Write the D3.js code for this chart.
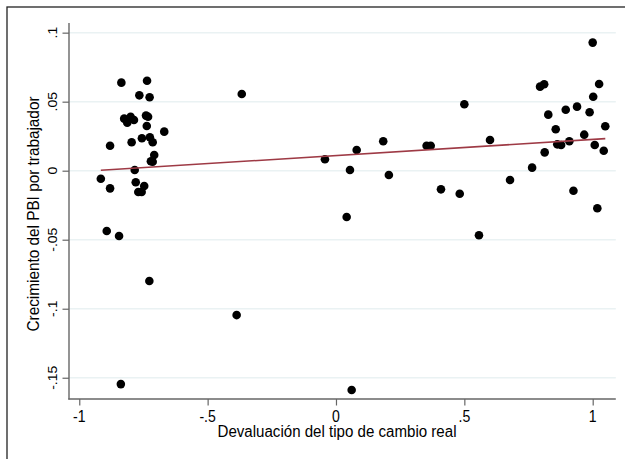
<!DOCTYPE html>
<html><head><meta charset="utf-8">
<script src="https://cdn.jsdelivr.net/npm/d3@7"></script>
<style>body{margin:0;background:#fff}svg{display:block}text{font-family:"Liberation Sans",Arial,sans-serif;fill:#000}</style>
</head><body>
<script>
const devaluacion = [
 -0.916,-0.880,-0.880,-0.893,-0.845,-0.836,-0.838,-0.825,-0.813,-0.800,
 -0.787,-0.796,-0.784,-0.780,-0.770,-0.757,-0.766,-0.756,-0.747,-0.740,
 -0.732,-0.737,-0.736,-0.726,-0.725,-0.714,-0.727,-0.708,-0.714,-0.721,
 -0.669,
 -0.387,-0.367,-0.043,0.0416,0.0545,0.0611,0.0806,0.184,0.206,0.353,
 0.369,0.409,0.482,0.500,0.557,0.600,0.678,0.764,
 0.795,0.811,0.813,0.827,0.856,0.862,0.877,0.895,0.909,0.925,
 0.939,0.967,0.988,1.000,1.002,1.008,1.018,1.025,1.043,1.049
];
const crecimiento = [
 -0.0058,-0.0128,0.0181,-0.0437,-0.0473,0.0638,-0.1546,0.0377,0.0348,0.0391,
 0.0367,0.0206,0.0005,-0.0084,-0.0154,-0.0154,0.0546,0.0235,-0.0111,0.0399,
 0.0391,0.0324,0.0652,0.0532,0.0242,0.0206,-0.0799,0.0114,0.0065,0.0068,
 0.0283,
 -0.1046,0.0556,0.0083,-0.0336,0.0005,-0.1589,0.0150,0.0213,-0.0031,0.0181,
 0.0181,-0.0135,-0.0167,0.0481,-0.0468,0.0222,-0.0067,0.0022,
 0.0609,0.0626,0.0133,0.0406,0.0300,0.0191,0.0186,0.0442,0.0213,-0.0145,
 0.0464,0.0261,0.0423,0.0928,0.0536,0.0186,-0.0272,0.0628,0.0145,0.0322
];
const xTicks = [-1, -0.5, 0, 0.5, 1];
const xTickLabels = ["-1", "-.5", "0", ".5", "1"];
const yTicks = [0.1, 0.05, 0, -0.05, -0.1, -0.15];
const yTickLabels = [".1", ".05", "0", "-.05", "-.1", "-.15"];
const xTitle = "Devaluación del tipo de cambio real";
const yTitle = "Crecimiento del PBI por trabajador";

const W = 625, H = 459;
const svg = d3.select("body").append("svg").attr("width", W).attr("height", H);
svg.append("rect").attr("width", W).attr("height", H).attr("fill", "#fff");
// outer frame
svg.append("rect").attr("x", 7).attr("y", 7).attr("width", 700).attr("height", 600)
  .attr("fill", "none").attr("stroke", "#222").attr("stroke-width", 1.3);

const x = d3.scaleLinear().domain([-1.040, 1.090]).range([69, 615.8]);
const y = d3.scaleLinear().domain([-0.1654, 0.107]).range([399, 23]);

// gridlines
svg.append("g").selectAll("line").data(yTicks).join("line")
  .attr("x1", 69).attr("x2", 615.8).attr("y1", d => y(d)).attr("y2", d => y(d))
  .attr("stroke", "#eaf2f3").attr("stroke-width", 1.5);

// axes
const yAxis = d3.axisLeft(y).tickValues(yTicks).tickSize(6.5).tickFormat("");
const gy = svg.append("g").attr("transform", "translate(69,0)").call(yAxis);
gy.select(".domain").remove();
gy.selectAll(".tick line").attr("stroke", "#666").attr("stroke-width", 1.2);
svg.append("line").attr("x1", 69).attr("x2", 69).attr("y1", 23).attr("y2", 399.5)
  .attr("stroke", "#666").attr("stroke-width", 1.4);

const xAxis = d3.axisBottom(x).tickValues(xTicks).tickSize(6.5).tickFormat("");
const gx = svg.append("g").attr("transform", "translate(0,399)").call(xAxis);
gx.select(".domain").remove();
gx.selectAll(".tick line").attr("stroke", "#666").attr("stroke-width", 1.2);
svg.append("line").attr("x1", 68.3).attr("x2", 615.8).attr("y1", 399).attr("y2", 399)
  .attr("stroke", "#666").attr("stroke-width", 1.4);

// tick labels
svg.append("g").selectAll("text").data(yTicks).join("text")
  .attr("transform", d => `translate(57,${y(d)}) scale(0.87,1) rotate(-90)`)
  .attr("text-anchor", "middle").attr("font-size", 14)
  .text((d, i) => yTickLabels[i]);
svg.append("g").selectAll("text").data(xTicks).join("text")
  .attr("transform", d => `translate(${x(d)},421.5) scale(0.88,1)`)
  .attr("text-anchor", "middle").attr("font-size", 16)
  .text((d, i) => xTickLabels[i]);

// titles
svg.append("text").attr("x", 337).attr("y", 437).attr("text-anchor", "middle")
  .attr("font-size", 16).attr("textLength", 239).attr("lengthAdjust", "spacingAndGlyphs")
  .text(xTitle);
svg.append("text").attr("transform", "translate(39,214) rotate(-90)").attr("text-anchor", "middle")
  .attr("font-size", 16).attr("textLength", 235).attr("lengthAdjust", "spacingAndGlyphs")
  .text(yTitle);

// points
const pts = devaluacion.map((v, i) => ({ x: v, y: crecimiento[i] }));
svg.append("g").selectAll("circle").data(pts).join("circle")
  .attr("cx", d => x(d.x)).attr("cy", d => y(d.y)).attr("r", 4.3).attr("fill", "#000");

// linear fit (OLS)
const mx = d3.mean(pts, d => d.x), my = d3.mean(pts, d => d.y);
const slope = d3.sum(pts, d => (d.x - mx) * (d.y - my)) / d3.sum(pts, d => (d.x - mx) ** 2);
const icpt = my - slope * mx;
const [xmin, xmax] = d3.extent(devaluacion);
svg.append("path").datum([xmin, xmax])
  .attr("d", d3.line().x(d => x(d)).y(d => y(icpt + slope * d)))
  .attr("stroke", "#9e3a45").attr("stroke-width", 1.6).attr("fill", "none");
</script>
</body></html>
